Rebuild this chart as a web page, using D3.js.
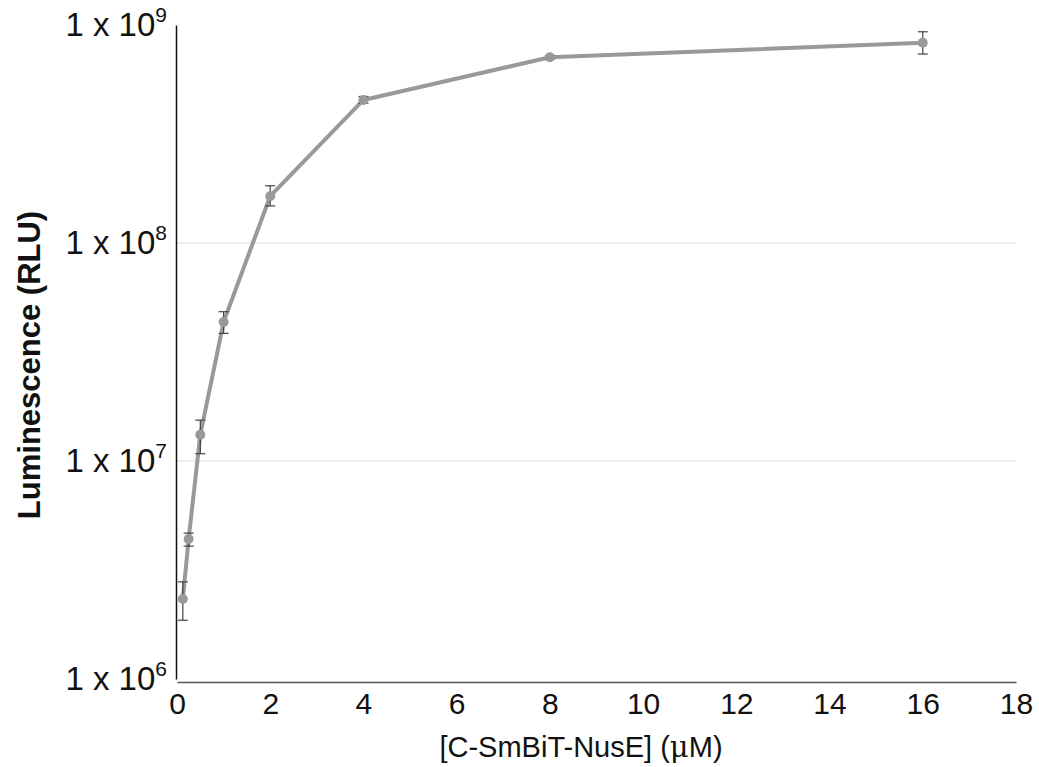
<!DOCTYPE html>
<html>
<head>
<meta charset="utf-8">
<script src="https://cdn.jsdelivr.net/npm/d3@7"></script>
<style>
  body { margin: 0; background: #fff; }
  svg { font-family: 'Liberation Sans', Arial, sans-serif; }
</style>
</head>
<body>
<div id="chart"></div>
<script>
// data
const doses = [0.125, 0.25, 0.5, 1, 2, 4, 8, 16]
const lum = [2.33e6, 4.39e6, 1.32e7, 4.34e7, 1.64e8, 4.53e8, 7.11e8, 8.29e8]
const lumHi = [2.79e6, 4.67e6, 1.54e7, 4.84e7, 1.83e8, 4.7e8, 7.25e8, 9.31e8]
const lumLo = [1.86e6, 4.07e6, 1.08e7, 3.85e7, 1.48e8, 4.38e8, 6.98e8, 7.36e8]
const xTicks = [0, 2, 4, 6, 8, 10, 12, 14, 16, 18]
const yTicks = [1e6, 1e7, 1e8, 1e9]
const gridTicks = [1e7, 1e8]

const width = 1039
const height = 767

const svg = d3.select('#chart').append('svg')
  .attr('width', width)
  .attr('height', height)

const x = d3.scaleLinear().domain([0, 18]).range([177, 1016])
const y = d3.scaleLog().domain([1e6, 1e9]).range([679, 25])

// gridlines
svg.append('g')
  .selectAll('line')
  .data(gridTicks)
  .join('line')
  .attr('x1', x(0))
  .attr('x2', x(18))
  .attr('y1', d => y(d))
  .attr('y2', d => y(d))
  .attr('stroke', '#d9d9d9')
  .attr('stroke-width', 1)

// x axis
const xAxis = d3.axisBottom(x).tickValues(xTicks).tickSize(0).tickPadding(11).tickFormat(d3.format('d'))
const gx = svg.append('g')
  .attr('transform', 'translate(0,682)')
  .call(xAxis)
gx.select('.domain').attr('stroke', '#555').attr('stroke-width', 1.5)
gx.selectAll('text').attr('font-size', 30).attr('fill', '#111')

// y axis
const yAxis = d3.axisLeft(y).tickValues(yTicks).tickSize(0).tickPadding(9).tickFormat('')
const gy = svg.append('g')
  .attr('transform', 'translate(176,0)')
  .call(yAxis)
gy.select('.domain').attr('stroke', '#111').attr('stroke-width', 1.5)
gy.selectAll('.tick text')
  .attr('font-size', 33)
  .attr('fill', '#111')
  .attr('dy', '0.33em')
  .each(function (d) {
    const t = d3.select(this)
    t.append('tspan').text('1 x 10')
    t.append('tspan')
      .attr('font-size', 21)
      .attr('dy', '-0.7em')
      .text(Math.round(Math.log10(d)))
  })

// line
const line = d3.line()
  .x((d, i) => x(doses[i]))
  .y(d => y(d))
svg.append('path')
  .datum(lum)
  .attr('fill', 'none')
  .attr('stroke', '#999')
  .attr('stroke-width', 4)
  .attr('stroke-linejoin', 'round')
  .attr('d', line)

// error bars
const eb = svg.append('g').attr('stroke', '#444').attr('stroke-width', 1.2)
doses.forEach((d, i) => {
  const cx = x(d)
  eb.append('line').attr('x1', cx).attr('x2', cx).attr('y1', y(lumHi[i])).attr('y2', y(lumLo[i]))
  eb.append('line').attr('x1', cx - 5).attr('x2', cx + 5).attr('y1', y(lumHi[i])).attr('y2', y(lumHi[i]))
  eb.append('line').attr('x1', cx - 5).attr('x2', cx + 5).attr('y1', y(lumLo[i])).attr('y2', y(lumLo[i]))
})

// points
svg.append('g')
  .selectAll('circle')
  .data(lum)
  .join('circle')
  .attr('cx', (d, i) => x(doses[i]))
  .attr('cy', d => y(d))
  .attr('r', 5)
  .attr('fill', '#999')

// axis titles
const xt = svg.append('text')
  .attr('x', 581)
  .attr('y', 757)
  .attr('text-anchor', 'middle')
  .attr('font-size', 29)
  .attr('fill', '#111')
xt.append('tspan').text('[C-SmBiT-NusE] (')
xt.append('tspan').attr('font-family', "'DejaVu Serif', serif").text('\u03bc')
xt.append('tspan').text('M)')

svg.append('text')
  .attr('transform', 'translate(40,365) rotate(-90)')
  .attr('text-anchor', 'middle')
  .attr('font-size', 31)
  .attr('font-weight', 'bold')
  .attr('fill', '#111')
  .text('Luminescence (RLU)')
</script>
</body>
</html>
